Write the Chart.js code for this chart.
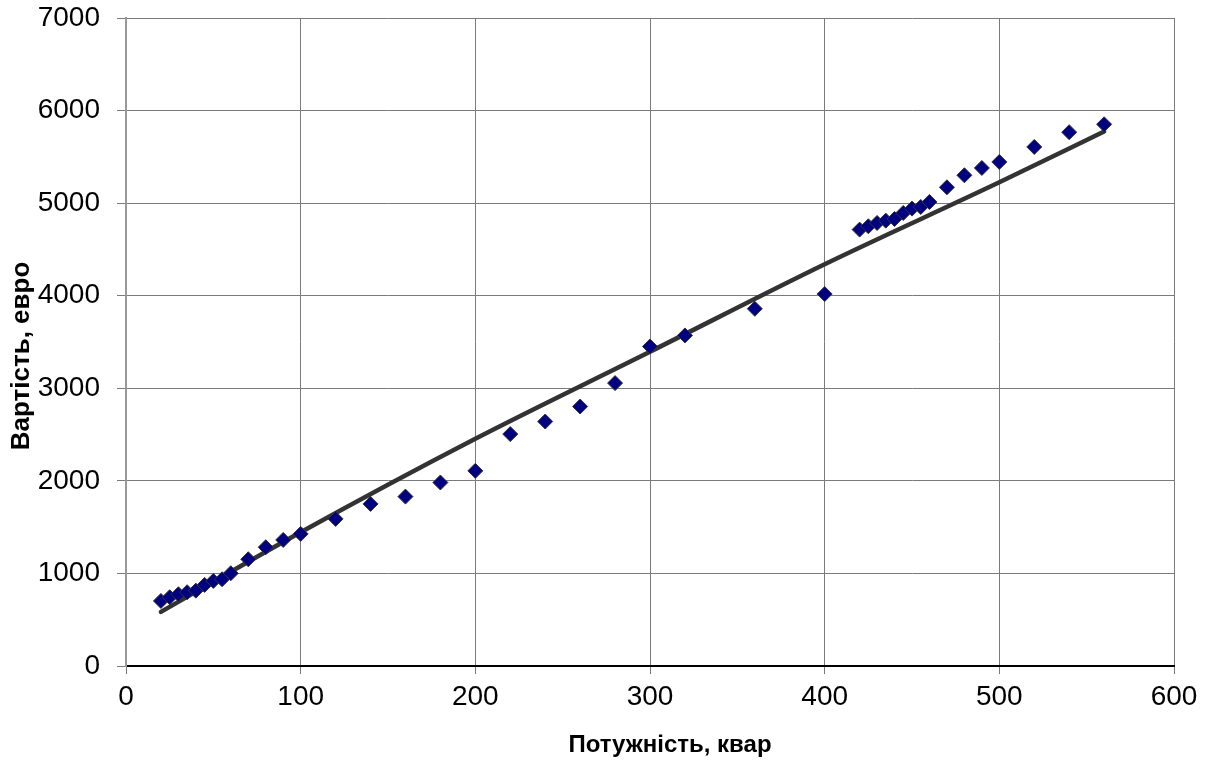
<!DOCTYPE html>
<html>
<head>
<meta charset="utf-8">
<title>Вартість від потужності</title>
<script src="https://cdn.jsdelivr.net/npm/chart.js@4.4.1/dist/chart.umd.min.js"></script>
<style>
  body { margin: 0; background: #fff; }
  canvas { display: block; }
</style>
</head>
<body>
<canvas id="costChart" width="1211" height="771"></canvas>
<script>
// Power (kvar) and cost (euro) per unit
const power = [20, 25, 30, 35, 40, 45, 50, 55, 60, 70, 80, 90, 100, 120, 140, 160, 180, 200,
  220, 240, 260, 280, 300, 320, 360, 400, 420, 425, 430, 435, 440, 445, 450, 455, 460,
  470, 480, 490, 500, 520, 540, 560]
const cost = [703, 743, 775, 797, 814, 876, 919, 937, 1002, 1153, 1283, 1362, 1427, 1589, 1751, 1830, 1982, 2108,
  2505, 2641, 2803, 3056, 3452, 3571, 3859, 4018, 4714, 4750, 4786, 4811, 4829, 4894, 4941, 4959, 5013,
  5171, 5301, 5380, 5445, 5607, 5766, 5852]

// trend line
const trendPower = [20, 100, 200, 300, 400, 500, 560]
const trendCost = [585, 1445, 2455, 3395, 4340, 5225, 5775]

const xTicks = [0, 100, 200, 300, 400, 500, 600]
const yTicks = [0, 1000, 2000, 3000, 4000, 5000, 6000, 7000]

const xTitle = "Потужність, квар"
const yTitle = "Вартість, евро"

const FONT = '"Liberation Sans", Arial, sans-serif'

// axis titles sit where the plot frame leaves room for them
const axisTitles = {
  id: "axisTitles",
  afterDraw(chart) {
    const ctx = chart.ctx
    const area = chart.chartArea
    ctx.save()
    ctx.fillStyle = "#000"
    ctx.textAlign = "center"
    ctx.textBaseline = "middle"
    ctx.font = "bold 24px " + FONT
    ctx.fillText(xTitle, (area.left + area.right) / 2 + 20, 745)
    ctx.font = "bold 26px " + FONT
    ctx.translate(22, (area.top + area.bottom) / 2 + 14)
    ctx.rotate(-Math.PI / 2)
    ctx.fillText(yTitle, 0, 0)
    ctx.restore()
  },
}

new Chart(document.getElementById("costChart"), {
  type: "scatter",
  data: {
    datasets: [
      {
        label: "Вартість",
        data: power.map((p, i) => ({ x: p, y: cost[i] })),
        pointStyle: "rectRot",
        pointRadius: 7.5,
        pointHoverRadius: 7.5,
        backgroundColor: "#000080",
        borderColor: "#333333",
        borderWidth: 1,
      },
      {
        label: "Тренд",
        type: "line",
        data: trendPower.map((p, i) => ({ x: p, y: trendCost[i] })),
        borderColor: "#333333",
        borderWidth: 4.5,
        borderCapStyle: "round",
        cubicInterpolationMode: "monotone",
        pointRadius: 0,
        fill: false,
      },
    ],
  },
  options: {
    responsive: false,
    animation: false,
    layout: { padding: { left: 0, top: 18, right: 37, bottom: 0 } },
    plugins: {
      legend: { display: false },
      tooltip: { enabled: false },
    },
    scales: {
      x: {
        type: "linear",
        min: 0,
        max: 600,
        afterBuildTicks: (scale) => { scale.ticks = xTicks.map((v) => ({ value: v })) },
        afterFit: (scale) => { scale.height = 105 },
        ticks: {
          color: "#000",
          font: { family: FONT, size: 28 },
          padding: 6,
          maxRotation: 0,
          callback: (v) => String(v),
        },
        grid: { color: "#7a7a7a", lineWidth: 1, tickLength: 8 },
        border: { color: "#000", width: 2 },
      },
      y: {
        type: "linear",
        min: 0,
        max: 7000,
        afterBuildTicks: (scale) => { scale.ticks = yTicks.map((v) => ({ value: v })) },
        afterFit: (scale) => {
          scale.width = 126
          // labels may overhang the frame; don't shrink the plot for them
          scale.paddingTop = 0
          scale.paddingBottom = 0
        },
        ticks: {
          color: "#000",
          font: { family: FONT, size: 28 },
          padding: 17,
          callback: (v) => String(v),
        },
        grid: { color: "#7a7a7a", lineWidth: 1, tickLength: 9 },
        border: { color: "#999", width: 2 },
      },
    },
  },
  plugins: [axisTitles],
})
</script>
</body>
</html>
